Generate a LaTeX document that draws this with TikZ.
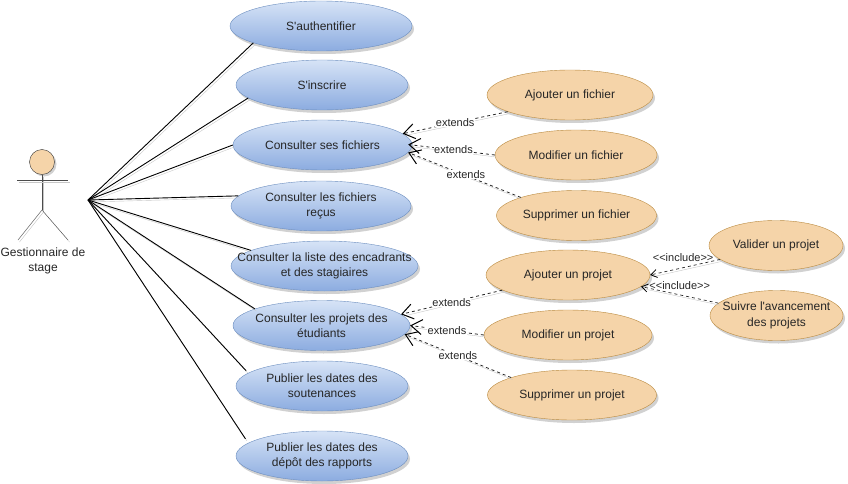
\documentclass[tikz,border=0pt]{standalone}
\usepackage{fontspec}
\setmainfont{Liberation Sans}
\usetikzlibrary{shapes.geometric,shadows,arrows.meta}
\definecolor{case blue top}{HTML}{D6E3F6}
\definecolor{case blue bottom}{HTML}{8CACE0}
\definecolor{case blue line}{HTML}{6C8EBF}
\definecolor{case orange}{HTML}{F5D4A9}
\definecolor{case orange line}{HTML}{B98A3F}
\tikzset{
  usecase/.style = {ellipse, minimum width = #1, minimum height = 50pt, inner xsep = -45pt, inner ysep = -10pt, align = center, font = \fontsize{12}{15}\selectfont, text = black!85, drop shadow = {shadow xshift = 2pt, shadow yshift = -3pt, fill = black!30, opacity = 0.6}},
  main case/.style = {usecase = #1, draw = case blue line, top color = case blue top, bottom color = case blue bottom},
  sub case/.style = {usecase = #1, draw = case orange line, fill = case orange},
  soft shadow/.style = {preaction = {-, draw = black!22, transform canvas = {xshift = 1.5pt, yshift = -2pt}}},
  actor line/.style = {draw = black!70, soft shadow},
  link/.style = {draw = black, line width = 0.9pt, soft shadow},
  relation/.style = {draw = black!85, line width = 0.8pt, dash pattern = on 3pt off 3pt, -{Straight Barb[length = 11pt, width = 15pt, line width = 1pt, color = black]}, soft shadow},
  small relation/.style = {draw = black!85, line width = 0.7pt, dash pattern = on 3pt off 3pt, -{Straight Barb[length = 6pt, width = 8pt, line width = 0.8pt, color = black]}, soft shadow},
  relation label/.style = {fill = white, inner sep = 0.5pt, text = black!85, font = \fontsize{11}{13}\selectfont},
  include label/.style = {inner sep = 0pt, text = black!85, font = \fontsize{11}{13}\selectfont}
}
\begin{document}
\begin{tikzpicture}[x = 1pt, y = -1pt]
    \useasboundingbox (0, 0) rectangle (848, 484);
    % actor
    \node[circle, draw = black!80, fill = case orange, minimum size = 25pt, inner sep = 0pt, drop shadow = {shadow xshift = 2pt, shadow yshift = -2pt, fill = black!30, opacity = 0.6}] (Head) at (42, 162) {};
    \coordinate (Arm Left) at (17, 180);
    \coordinate (Arm Right) at (68, 180);
    \coordinate (Hip) at (42, 210);
    \coordinate (Foot Left) at (18, 240);
    \coordinate (Foot Right) at (68, 240);
    \coordinate (Hub) at (88, 200);
    \node[align = center, font = \fontsize{12}{15}\selectfont, text = black!85] (Manager) at (43, 261) {Gestionnaire de\\stage};
    \draw[actor line] (Head) -- (Hip);
    \draw[actor line] (Arm Left) -- (Arm Right);
    \draw[actor line] (Hip) -- (Foot Left);
    \draw[actor line] (Hip) -- (Foot Right);
    % use cases
    \node[main case = 182pt] (Login) at (321, 26) {S\textquotesingle authentifier};
    \node[main case = 172pt] (Signup) at (322, 85) {S\textquotesingle inscrire};
    \node[main case = 179pt] (Files) at (322.5, 145) {Consulter ses fichiers};
    \node[main case = 180pt] (Received) at (321, 206) {Consulter les fichiers\\reçus};
    \node[main case = 187pt] (Lists) at (324.5, 266) {Consulter la liste des encadrants\\et des stagiaires};
    \node[main case = 177pt] (Projects) at (321.5, 325.5) {Consulter les projets des\\étudiants};
    \node[main case = 172pt] (Defenses) at (322, 386) {Publier les dates des\\soutenances};
    \node[main case = 172pt] (Reports) at (322, 456) {Publier les dates des\\dépôt des rapports};
    \node[sub case = 166pt] (Add File) at (570, 95) {Ajouter un fichier};
    \node[sub case = 162pt] (Edit File) at (576, 155) {Modifier un fichier};
    \node[sub case = 160pt] (Delete File) at (576.5, 215.5) {Supprimer un fichier};
    \node[sub case = 164pt] (Add Project) at (568, 275) {Ajouter un projet};
    \node[sub case = 168pt] (Edit Project) at (568, 335) {Modifier un projet};
    \node[sub case = 169pt] (Delete Project) at (572, 395) {Supprimer un projet};
    \node[sub case = 134pt] (Validate) at (776, 245.5) {Valider un projet};
    \node[sub case = 133pt] (Follow) at (776.5, 315.5) {Suivre l\textquotesingle avancement\\[1pt]des projets};
    % actor links
    \draw[link] (Hub) -- (Login.194);
    \draw[link] (Hub) -- (Signup.190);
    \draw[link] (Hub) -- (Files.180);
    \draw[link] (Hub) -- (Received.173);
    \draw[link] (Hub) -- (Lists.168);
    \draw[link] (Hub) -- (Projects.166);
    \draw[link, shorten > = 3pt] (Hub) -- (Defenses.170);
    \draw[link, shorten > = 5pt] (Hub) -- (Reports.170);
    % extends
    \draw[relation] (Add File.195) -- node[relation label] {extends} (Files.8);
    \draw[relation, shorten > = -4pt] (Edit File.180) -- node[relation label] {extends} (Files.0);
    \draw[relation] (Delete File.162) -- node[relation label, xshift = 1.5pt] {extends} (Files.-5);
    \draw[relation] (Add Project.193) -- node[relation label] {extends} (Projects.8);
    \draw[relation] (Edit Project.180) -- node[relation label] {extends} (Projects.0);
    \draw[relation] (Delete Project.164) -- node[relation label] {extends} (Projects.-6);
    % includes
    \draw[small relation] (Validate.194) -- node[include label, xshift = -2pt, yshift = 9.5pt] {<{}<include>{}>} (Add Project.0);
    \draw[small relation] (Follow.168) -- node[include label, yshift = 9.5pt] {<{}<include>{}>} (Add Project.-9.5);
\end{tikzpicture}
\end{document}
